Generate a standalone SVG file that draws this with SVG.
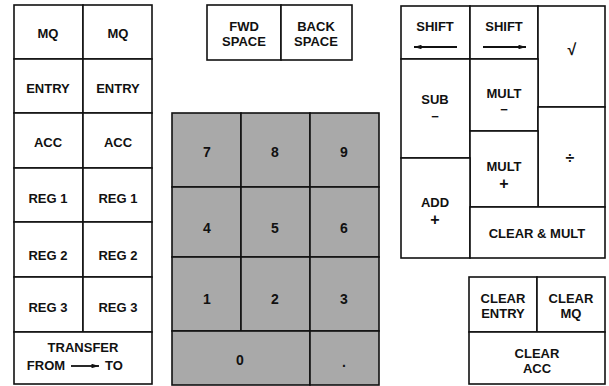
<svg xmlns="http://www.w3.org/2000/svg" width="609" height="386" viewBox="0 0 609 386">
<style>
.k{fill:#fff;stroke:#111;stroke-width:1.6}
.g{fill:#a9a9a9;stroke:#111;stroke-width:1.6}
text{font-family:"Liberation Sans",Arial,sans-serif;font-weight:bold;font-size:13px;fill:#111;text-anchor:middle}
.d{font-size:14px}
.s{font-size:16px}
.m{font-size:13px}
.ln{stroke:#111;stroke-width:1.8;fill:none}
</style>
<defs>
<marker id="ah" viewBox="0 0 10 6" refX="10" refY="3" markerWidth="8" markerHeight="4.5" orient="auto" markerUnits="userSpaceOnUse"><path d="M0,0L10,3L0,6Z" fill="#111"/></marker>
</defs>
<rect width="609" height="386" fill="#fff"/>
<!-- left panel -->
<g id="mq1"><rect class="k" x="14" y="5" width="69" height="54"/><text x="48" y="38">MQ</text></g>
<g id="mq2"><rect class="k" x="83" y="5" width="69" height="54"/><text x="118" y="38">MQ</text></g>
<g id="entry1"><rect class="k" x="14" y="59" width="69" height="54"/><text x="48" y="93">ENTRY</text></g>
<g id="entry2"><rect class="k" x="83" y="59" width="69" height="54"/><text x="118" y="93">ENTRY</text></g>
<g id="acc1"><rect class="k" x="14" y="113" width="69" height="55"/><text x="48" y="147">ACC</text></g>
<g id="acc2"><rect class="k" x="83" y="113" width="69" height="55"/><text x="118" y="147">ACC</text></g>
<g id="reg1a"><rect class="k" x="14" y="168" width="69" height="54"/><text x="48" y="203">REG 1</text></g>
<g id="reg1b"><rect class="k" x="83" y="168" width="69" height="54"/><text x="118" y="203">REG 1</text></g>
<g id="reg2a"><rect class="k" x="14" y="222" width="69" height="55"/><text x="48" y="260">REG 2</text></g>
<g id="reg2b"><rect class="k" x="83" y="222" width="69" height="55"/><text x="118" y="260">REG 2</text></g>
<g id="reg3a"><rect class="k" x="14" y="277" width="69" height="55"/><text x="48" y="312">REG 3</text></g>
<g id="reg3b"><rect class="k" x="83" y="277" width="69" height="55"/><text x="118" y="312">REG 3</text></g>
<g id="transfer"><rect class="k" x="14" y="332" width="138" height="52"/><text x="83" y="352">TRANSFER</text><text x="46" y="370">FROM</text><text x="114" y="370">TO</text><line class="ln" x1="71" y1="366" x2="99" y2="366" marker-end="url(#ah)"/></g>
<!-- space keys -->
<g id="fwdspace"><rect class="k" x="207" y="5" width="74" height="55"/><text x="244" y="31">FWD</text><text x="244" y="46">SPACE</text></g>
<g id="backspace"><rect class="k" x="281" y="5" width="71" height="55"/><text x="316" y="31">BACK</text><text x="316" y="46">SPACE</text></g>
<!-- keypad -->
<g id="k7"><rect class="g" x="172" y="113" width="69" height="74"/><text class="d" x="207" y="157">7</text></g>
<g id="k8"><rect class="g" x="241" y="113" width="69" height="74"/><text class="d" x="275" y="157">8</text></g>
<g id="k9"><rect class="g" x="310" y="113" width="69" height="74"/><text class="d" x="344" y="157">9</text></g>
<g id="k4"><rect class="g" x="172" y="187" width="69" height="70"/><text class="d" x="207" y="233">4</text></g>
<g id="k5"><rect class="g" x="241" y="187" width="69" height="70"/><text class="d" x="275" y="233">5</text></g>
<g id="k6"><rect class="g" x="310" y="187" width="69" height="70"/><text class="d" x="344" y="233">6</text></g>
<g id="k1"><rect class="g" x="172" y="257" width="69" height="74"/><text class="d" x="207" y="304">1</text></g>
<g id="k2"><rect class="g" x="241" y="257" width="69" height="74"/><text class="d" x="275" y="304">2</text></g>
<g id="k3"><rect class="g" x="310" y="257" width="69" height="74"/><text class="d" x="344" y="304">3</text></g>
<g id="k0"><rect class="g" x="172" y="331" width="138" height="54"/><text class="d" x="240" y="365">0</text></g>
<g id="kdot"><rect class="g" x="310" y="331" width="69" height="54"/><text class="d" x="344" y="367">.</text></g>
<!-- right panel -->
<g id="shiftl"><rect class="k" x="401" y="6" width="69" height="53"/><text x="435" y="31">SHIFT</text><line class="ln" x1="457" y1="47" x2="414" y2="47" marker-end="url(#ah)"/></g>
<g id="shiftr"><rect class="k" x="470" y="6" width="68" height="53"/><text x="504" y="31">SHIFT</text><line class="ln" x1="483" y1="47" x2="526" y2="47" marker-end="url(#ah)"/></g>
<g id="sqrt"><rect class="k" x="538" y="6" width="67" height="101"/><text class="s" x="572" y="55">√</text></g>
<g id="sub"><rect class="k" x="401" y="59" width="69" height="99"/><text x="435" y="104">SUB</text><text class="m" x="435" y="121">−</text></g>
<g id="multminus"><rect class="k" x="470" y="59" width="68" height="72"/><text x="504" y="98">MULT</text><text class="m" x="504" y="114">−</text></g>
<g id="divide"><rect class="k" x="538" y="107" width="67" height="100"/><text class="s" x="570" y="163">÷</text></g>
<g id="multplus"><rect class="k" x="470" y="131" width="68" height="76"/><text x="504" y="171">MULT</text><text class="s" x="504" y="189">+</text></g>
<g id="add"><rect class="k" x="401" y="158" width="69" height="100"/><text x="435" y="207">ADD</text><text class="s" x="435" y="225">+</text></g>
<g id="clearmult"><rect class="k" x="470" y="207" width="135" height="51"/><text x="537" y="238">CLEAR &amp; MULT</text></g>
<!-- clear block -->
<g id="clearentry"><rect class="k" x="469" y="277" width="68" height="55"/><text x="503" y="303">CLEAR</text><text x="503" y="318">ENTRY</text></g>
<g id="clearmq"><rect class="k" x="537" y="277" width="68" height="55"/><text x="571" y="303">CLEAR</text><text x="571" y="318">MQ</text></g>
<g id="clearacc"><rect class="k" x="469" y="332" width="136" height="52"/><text x="537" y="358">CLEAR</text><text x="537" y="373">ACC</text></g>
</svg>
